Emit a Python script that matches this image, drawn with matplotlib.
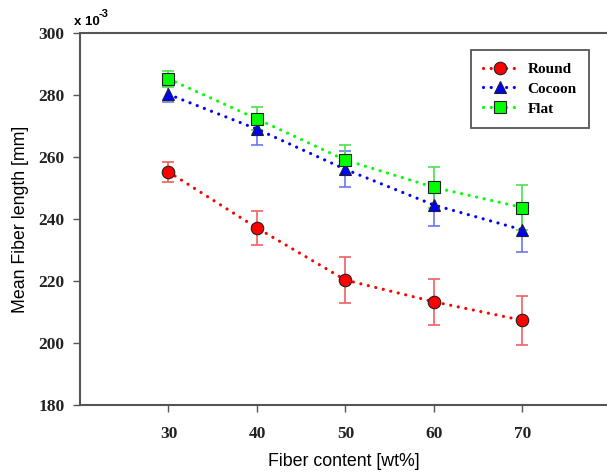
import numpy as np
from matplotlib import pyplot as plt

# Datos
fiber_content = [30, 40, 50, 60, 70]

round_mean = [255.2, 237.1, 220.3, 213.3, 207.3]
round_err = [3.2, 5.5, 7.4, 7.4, 7.9]

cocoon_mean = [280.2, 269.0, 256.0, 244.5, 236.5]
cocoon_err = [2.6, 5.0, 5.8, 6.8, 7.2]

flat_mean = [285.2, 272.3, 259.0, 250.2, 243.7]
flat_err = [2.5, 3.7, 4.9, 6.7, 7.3]

series = [
    ("Round", round_mean, round_err, "o", "#ff0000", "#f06060"),
    ("Cocoon", cocoon_mean, cocoon_err, "^", "#0000ff", "#6a78f0"),
    ("Flat", flat_mean, flat_err, "s", "#00ff00", "#50e050"),
]

fig = plt.figure(figsize=(6.07, 4.72), dpi=100)
ax = fig.add_axes([80/607, 1-405/472, 1-80/607, (405-33)/472])

for name, y, e, mk, col, ecol in series:
    ax.errorbar(fiber_content, y, yerr=e, fmt="none", ecolor=ecol,
                elinewidth=1.2, capsize=4, capthick=1.2, zorder=2)
    ax.plot(fiber_content, y, linestyle=(0, (0.01, 2.4)), linewidth=2.3,
            color=col, marker=mk, markersize=9, markerfacecolor=col,
            markeredgecolor="#202020", markeredgewidth=0.8, label=name,
            dash_capstyle="round", zorder=3)

ax.set_xlim(20, 79.55)
ax.set_ylim(180, 300)
ax.set_xticks(fiber_content)
ax.set_yticks(np.arange(180, 301, 20))

for s in ["left", "bottom", "top"]:
    ax.spines[s].set_color("#555555")
    ax.spines[s].set_linewidth(1.5)
ax.spines["right"].set_visible(False)

ax.tick_params(direction="out", length=5, width=1, color="#555555", pad=6)
ax.tick_params(axis="x", pad=10)
for lab in ax.get_xticklabels() + ax.get_yticklabels():
    lab.set_fontfamily("Liberation Serif")
    lab.set_fontweight("bold")
    lab.set_fontsize(12.5)
    lab.set_color("#222222")

ax.set_xlabel("Fiber content [wt%]", fontfamily="Liberation Sans",
              fontsize=12.8, labelpad=8)
ax.set_ylabel("Mean Fiber length [mm]", fontfamily="Liberation Sans",
              fontsize=12.8, labelpad=7)

fig.text(74/607, 1-22/472, "x 10", fontfamily="Liberation Sans",
         fontsize=9.5, fontweight="bold", va="center", ha="left")
fig.text(99/607, 1-14/472, "-3", fontfamily="Liberation Sans",
         fontsize=8, fontweight="bold", va="center", ha="left")

leg = ax.legend(loc="upper right",
                prop={"family": "Liberation Serif", "weight": "bold", "size": 11},
                fancybox=False, edgecolor="#555555", framealpha=1,
                handlelength=2.2, handletextpad=0.7, borderpad=0.8,
                labelspacing=0.4, borderaxespad=0)
leg.get_frame().set_linewidth(1.3)
leg.set_bbox_to_anchor((589/607, 1-50/472), transform=fig.transFigure)

fig.savefig("out.png", dpi=100)
